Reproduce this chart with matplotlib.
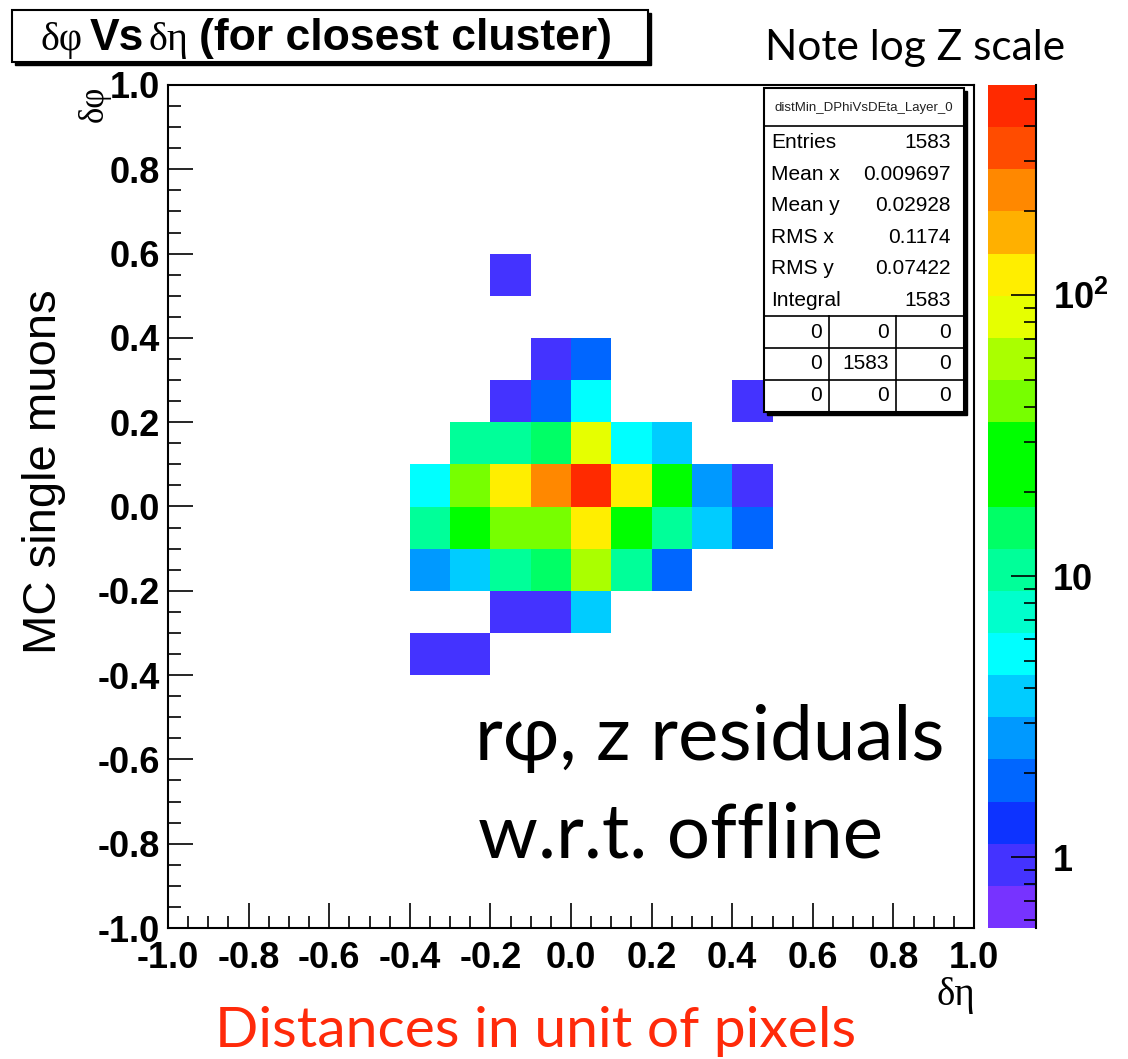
import numpy as np
import matplotlib
matplotlib.use('Agg')
import matplotlib.pyplot as plt
from matplotlib.colors import ListedColormap, LogNorm
from matplotlib.ticker import MultipleLocator, FuncFormatter, LogLocator, NullFormatter, FixedLocator
from matplotlib.patches import Rectangle
from matplotlib.lines import Line2D

# --- data: 2D histogram of closest-cluster residuals (bins of 0.1) ---
eta_edges = [-0.4, -0.3, -0.2, -0.1, 0.0, 0.1, 0.2, 0.3, 0.4, 0.5]
phi_edges = [-0.4, -0.3, -0.2, -0.1, 0.0, 0.1, 0.2, 0.3, 0.4, 0.5, 0.6]
# counts[i][j]: phi bin i (bottom -> top), eta bin j (left -> right)
counts = [
    [1, 1, 0, 0, 0, 0, 0, 0, 0],
    [0, 0, 1, 1, 4, 0, 0, 0, 0],
    [3, 4, 10, 15, 60, 10, 2, 0, 0],
    [10, 22, 40, 40, 125, 22, 10, 4, 2],
    [5, 40, 125, 250, 490, 120, 22, 3, 1],
    [0, 10, 10, 15, 85, 5, 4, 0, 0],
    [0, 0, 1, 2, 5, 0, 0, 0, 1],
    [0, 0, 0, 1, 2, 0, 0, 0, 0],
    [0, 0, 0, 0, 0, 0, 0, 0, 0],
    [0, 0, 1, 0, 0, 0, 0, 0, 0],
]
z_min, z_max = 0.56, 560

stat_names = ['Entries', 'Mean x', 'Mean y', 'RMS x', 'RMS y', 'Integral']
stat_values = ['1583', '0.009697', '0.02928', '0.1174', '0.07422', '1583']
overflow_table = [['0', '0', '0'], ['0', '1583', '0'], ['0', '0', '0']]

# ROOT-like palette, bottom to top
palette = ['#7733ff', '#4433ff', '#0d33ff', '#0066ff', '#0099ff', '#00ccff',
           '#00ffff', '#00ffcc', '#00ff99', '#00ff66', '#00ff00', '#00ff00',
           '#77ff00', '#aaff00', '#e6ff00', '#ffee00', '#ffb000', '#ff8800',
           '#ff4c00', '#ff2a00']

plt.rcParams['font.family'] = ['Liberation Sans', 'DejaVu Sans']
plt.rcParams['mathtext.fontset'] = 'custom'
plt.rcParams['mathtext.rm'] = 'Liberation Sans'
plt.rcParams['mathtext.bf'] = 'Liberation Sans:bold'

W, H = 1128, 1059
fig = plt.figure(figsize=(W / 100, H / 100), dpi=100)


def fx(x):
    return x / W


def fy(y):
    return 1 - y / H


def box(x0, y0, x1, y1, shadow=3, lw=1.5):
    if shadow:
        fig.add_artist(Rectangle((fx(x0 + shadow), fy(y1 + shadow)), (x1 - x0) / W, (y1 - y0) / H,
                                 transform=fig.transFigure, facecolor='black', edgecolor='black', zorder=4))
    fig.add_artist(Rectangle((fx(x0), fy(y1)), (x1 - x0) / W, (y1 - y0) / H,
                             transform=fig.transFigure, facecolor='white', edgecolor='black',
                             lw=lw, zorder=5))


def hline(x0, x1, y, lw=1.2):
    fig.add_artist(Line2D([fx(x0), fx(x1)], [fy(y), fy(y)], transform=fig.transFigure,
                          color='black', lw=lw, zorder=6))


def vline(x, y0, y1, lw=1.2):
    fig.add_artist(Line2D([fx(x), fx(x)], [fy(y0), fy(y1)], transform=fig.transFigure,
                          color='black', lw=lw, zorder=6))


# main axes
ax = fig.add_axes([fx(168), fy(928), (974 - 168) / W, (928 - 85) / H])
cmap = ListedColormap(palette)
norm = LogNorm(vmin=z_min, vmax=z_max)
data = np.ma.masked_equal(np.array(counts, dtype=float), 0)
mesh = ax.pcolormesh(eta_edges, phi_edges, data, cmap=cmap, norm=norm, antialiased=False)

ax.set_xlim(-1, 1)
ax.set_ylim(-1, 1)
for sp in ax.spines.values():
    sp.set_linewidth(1.5)
fmt = FuncFormatter(lambda v, p: '%.1f' % (0.0 if abs(v) < 1e-9 else v))
for axis in (ax.xaxis, ax.yaxis):
    axis.set_major_locator(MultipleLocator(0.2))
    axis.set_minor_locator(MultipleLocator(0.05))
    axis.set_major_formatter(fmt)
ax.tick_params(which='both', direction='in', top=False, right=False, width=1.2)
ax.tick_params(which='major', length=18)
ax.tick_params(which='minor', length=9)
ax.tick_params(axis='x', pad=9)
ax.tick_params(axis='y', pad=6)
for lab in ax.get_xticklabels() + ax.get_yticklabels():
    lab.set_fontsize(26)
    lab.set_fontweight('bold')

# colour scale
cax = fig.add_axes([fx(988), fy(928), (1036 - 988) / W, (928 - 85) / H])
cb = fig.colorbar(mesh, cax=cax)
cb.outline.set_visible(False)
cax.plot([1, 1], [0, 1], transform=cax.transAxes, color='black', lw=1.5, clip_on=False)
cax.yaxis.set_major_locator(FixedLocator([1, 10, 100]))
cax.yaxis.set_major_formatter(FuncFormatter(
    lambda v, p: {1: '1', 10: '10', 100: r'$\mathbf{10^{2}}$'}.get(int(round(v)), '')))
cax.yaxis.set_minor_locator(LogLocator(subs=range(2, 10)))
cax.yaxis.set_minor_formatter(NullFormatter())
cax.tick_params(which='both', direction='in', right=True, left=False, width=1.2, pad=12)
cax.tick_params(which='major', length=18)
cax.tick_params(which='minor', length=9)
for lab in cax.get_yticklabels():
    lab.set_fontsize(26)
    lab.set_fontweight('bold')

# axis titles (ROOT style)
fig.text(fx(94), fy(86), 'δφ', rotation=90, ha='center', va='top',
         family='Liberation Serif', fontsize=25)
fig.text(fx(975), fy(977), 'δη', ha='right', va='top',
         family='Liberation Serif', fontsize=28)

# title box
box(12, 10, 648, 62)
title_parts = [('δφ', 40, 'serif'), ('Vs', 90, 'sans'), ('δη', 149, 'serif'),
               ('(for closest cluster)', 199, 'sans')]
for txt, x0, kind in title_parts:
    if kind == 'serif':
        fig.text(fx(x0), fy(50), txt, ha='left', va='baseline', family='Liberation Serif',
                 fontsize=29, zorder=7)
    else:
        fig.text(fx(x0), fy(50), txt, ha='left', va='baseline', fontweight='bold',
                 fontsize=32, zorder=7)

# stats box
box(764, 88, 964, 412)
fig.text(fx(864), fy(108), 'distMin_DPhiVsDEta_Layer_0', ha='center', va='center',
         fontsize=9.5, color='#222222', zorder=7)
hline(764, 964, 126)
for i, (name, val) in enumerate(zip(stat_names, stat_values)):
    yy = 143 + i * 31.4
    fig.text(fx(771), fy(yy), name, ha='left', va='center', fontsize=15, zorder=7)
    fig.text(fx(951), fy(yy), val, ha='right', va='center', fontsize=15, zorder=7)
hline(764, 964, 316)
hline(764, 964, 348)
hline(764, 964, 380)
vline(829, 316, 412)
vline(896, 316, 412)
col_right = [822, 889, 951]
for r, row in enumerate(overflow_table):
    yy = 332 + r * 31.7
    for c, val in enumerate(row):
        fig.text(fx(col_right[c]), fy(yy), val, ha='right', va='center', fontsize=15, zorder=7)

# slide annotations
calibri = ['Lato', 'DejaVu Sans']
fig.text(fx(765), fy(60), 'Note log Z scale', ha='left', va='baseline',
         family=calibri, fontsize=30.5)
fig.text(fx(44), fy(472), 'MC single muons', rotation=90, ha='center', va='center',
         fontsize=34)
fig.text(fx(475), fy(760), 'rφ, z residuals', ha='left', va='baseline',
         family=calibri, fontsize=55, zorder=7)
fig.text(fx(478), fy(857), 'w.r.t. offline', ha='left', va='baseline',
         family=calibri, fontsize=55, zorder=7)
fig.text(fx(215), fy(1047), 'Distances in unit of pixels', ha='left', va='baseline',
         family=calibri, fontsize=41, color='#ff2a0a')

fig.savefig('out.png', dpi=100)
